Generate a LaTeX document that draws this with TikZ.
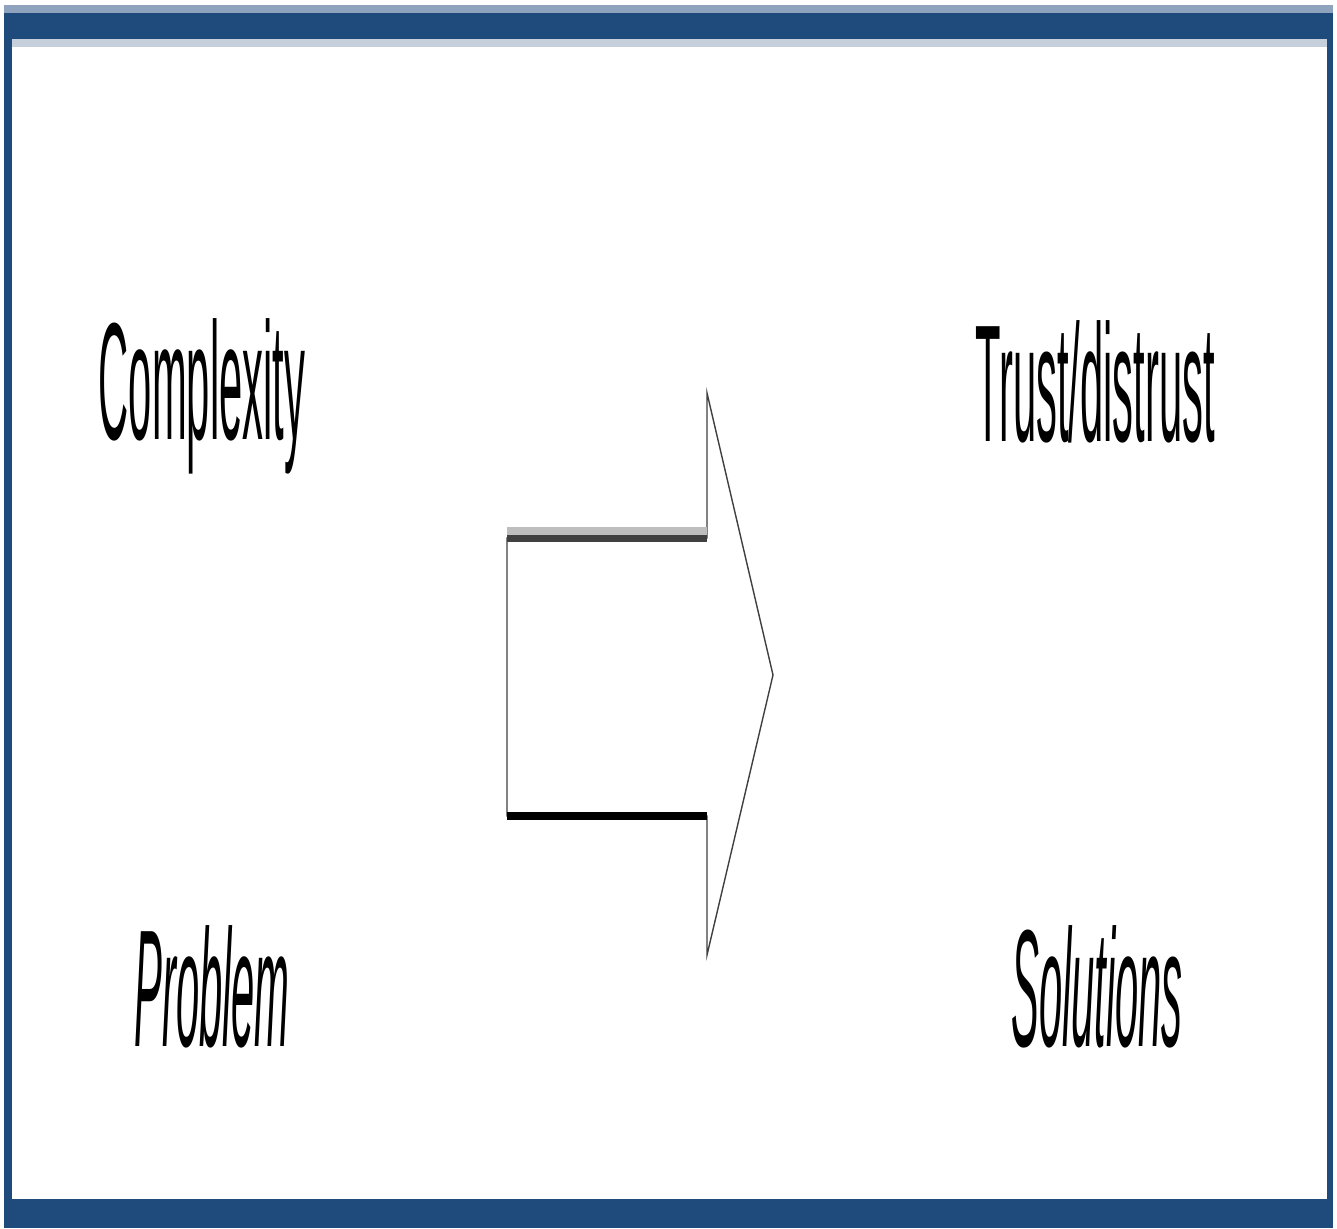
\documentclass[tikz,border=0pt]{standalone}
\usepackage{fontspec}
\setmainfont{Liberation Sans}
\usetikzlibrary{positioning}
\definecolor{framedark}{RGB}{31,74,124}
\definecolor{framemid}{RGB}{143,162,190}
\definecolor{framelight}{RGB}{197,208,220}
\definecolor{shaftgray}{RGB}{190,190,190}
\definecolor{shaftdark}{RGB}{64,64,64}

\begin{document}
\begin{tikzpicture}[
    x=0.02cm, y=0.02cm,
    word/.style={anchor=base, inner sep=0pt, xscale=0.25,
                 font=\fontsize{95}{95}\selectfont},
    slanted/.style={word, font=\fontsize{95}{95}\selectfont\itshape},
    outline/.style={draw=shaftdark, line width=0.8pt, fill=white}
]
\useasboundingbox (0,0) rectangle (1337,1228);
\fill[white] (0,0) rectangle (1337,1228);

% frame
\fill[framemid] (4,1215) rectangle (1333,1223);
\fill[framedark] (4,1189) rectangle (1333,1215);
\fill[framelight] (12,1181) rectangle (1327,1189);
\fill[framedark] (4,0) rectangle (12,1215);
\fill[framedark] (1327,0) rectangle (1333,1215);
\fill[framedark] (4,0) rectangle (1333,29);

% words
\node (complexity) [word] at (202,788) {Complexity};
\node (trust) [word] at (1095,786) {Trust/distrust};
\node (problem) [slanted] at (212,182) {Problem};
\node (solutions) [slanted] at (1097,182) {Solutions};

% block arrow
\draw [outline] (507,690) -- (707,690) -- (707,835) -- (773,553)
    -- (707,273) -- (707,412) -- (507,412) -- cycle;
\draw [shaftgray, line width=4.5pt] (507,697) -- (707,697);
\draw [shaftdark, line width=4pt] (507,689.5) -- (707,689.5);
\draw [black, line width=4.5pt] (507,412) -- (707,412);

\end{tikzpicture}
\end{document}
